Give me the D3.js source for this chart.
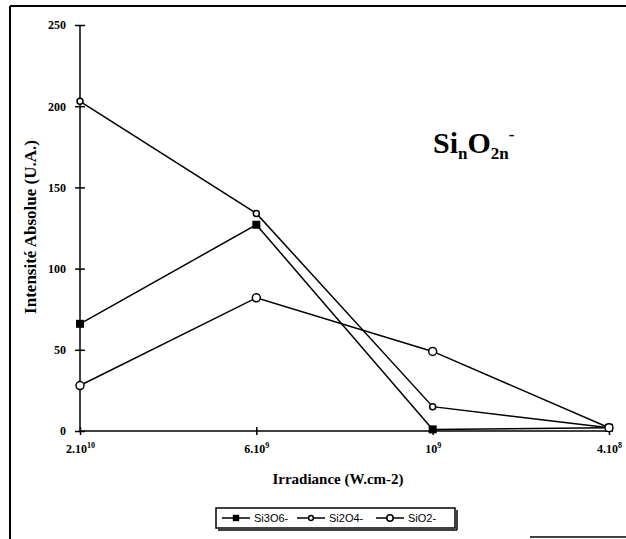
<!DOCTYPE html>
<html>
<head>
<meta charset="utf-8">
<script src="https://cdn.jsdelivr.net/npm/d3@7"></script>
<style>
  body { margin: 0; background: #fff; }
  svg { display: block; }
  .tick text { font-family: "Liberation Serif", serif; font-weight: bold; font-size: 12px; }
</style>
</head>
<body>
<section></section>
<script>
const categories = ["2.10|10", "6.10|9", "10|9", "4.10|8"];
const yTicks = [0, 50, 100, 150, 200, 250];
const seriesNames = ["Si3O6-", "Si2O4-", "SiO2-"];
const si3o6 = [66, 127, 1, 2];
const si2o4 = [203, 134, 15, 2];
const sio2 = [28, 82, 49, 2];

const series = [
  {name: seriesNames[0], values: si3o6, marker: "square"},
  {name: seriesNames[1], values: si2o4, marker: "small"},
  {name: seriesNames[2], values: sio2, marker: "circle"}
];

const width = 626, height = 539;
const margin = {left: 80, right: 17, top: 25, bottom: 108};

const svg = d3.select("section").append("svg")
  .attr("width", width)
  .attr("height", height);

// scanned frame edges
svg.append("line").attr("x1", 10).attr("y1", 6).attr("x2", 10).attr("y2", height)
  .attr("stroke", "#000").attr("stroke-width", 2);
svg.append("line").attr("x1", 10).attr("y1", 6).attr("x2", width).attr("y2", 6)
  .attr("stroke", "#000").attr("stroke-width", 2);
svg.append("line").attr("x1", 530).attr("y1", 537).attr("x2", width).attr("y2", 537)
  .attr("stroke", "#000").attr("stroke-width", 1.5);

const x = d3.scalePoint()
  .domain(categories)
  .range([margin.left, width - margin.right]);

const y = d3.scaleLinear()
  .domain([0, 250])
  .range([height - margin.bottom, margin.top]);

// y axis
const yAxis = svg.append("g")
  .attr("transform", `translate(${margin.left},0)`)
  .call(d3.axisLeft(y).tickValues(yTicks).tickSize(5).tickPadding(9));
yAxis.select(".domain").attr("stroke-width", 1.5).attr("d", `M0,${y(0)}V${y(250)}`);
yAxis.selectAll(".tick line").attr("x2", -5).attr("x1", 5).attr("stroke-width", 1.5);
yAxis.selectAll(".tick text").attr("fill", "#000");

// x axis
const xAxis = svg.append("g")
  .attr("transform", `translate(0,${y(0)})`)
  .call(d3.axisBottom(x).tickSize(4).tickPadding(9).tickFormat(() => ""));
xAxis.select(".domain").attr("stroke-width", 1.5)
  .attr("d", `M${x(categories[0])},0H${x(categories[categories.length - 1])}`);
xAxis.selectAll(".tick line").attr("y1", -4).attr("y2", 4).attr("stroke-width", 1.5);
xAxis.selectAll(".tick text").each(function(d) {
  const parts = d.split("|");
  const t = d3.select(this).attr("fill", "#000");
  t.append("tspan").text(parts[0]);
  t.append("tspan").attr("font-size", 8).attr("dy", -5).text(parts[1]);
});

// lines
const line = d3.line()
  .x((d, i) => x(categories[i]))
  .y(d => y(d));

series.forEach(s => {
  svg.append("path")
    .datum(s.values)
    .attr("fill", "none")
    .attr("stroke", "#000")
    .attr("stroke-width", 1.5)
    .attr("d", line);
});

function drawMarker(g, type, cx, cy, k = 1) {
  if (type === "square") {
    g.append("rect").attr("x", cx - 4 * k).attr("y", cy - 4 * k)
      .attr("width", 8 * k).attr("height", 8 * k)
      .attr("fill", "#000");
  } else if (type === "small") {
    g.append("circle").attr("cx", cx).attr("cy", cy).attr("r", 3 * k)
      .attr("fill", "#fff").attr("stroke", "#000").attr("stroke-width", 1.5);
  } else {
    g.append("circle").attr("cx", cx).attr("cy", cy).attr("r", 4 * k)
      .attr("fill", "#fff").attr("stroke", "#000").attr("stroke-width", 1.5);
  }
}

const marks = svg.append("g");
series.forEach(s => {
  s.values.forEach((v, i) => drawMarker(marks, s.marker, x(categories[i]), y(v)));
});

// title
const title = svg.append("text")
  .attr("x", 433).attr("y", 153)
  .attr("font-family", "Liberation Serif, serif")
  .attr("font-weight", "bold")
  .attr("font-size", 30);
title.append("tspan").text("Si");
title.append("tspan").attr("font-size", 17).attr("dy", 6).text("n");
title.append("tspan").attr("dy", -6).text("O");
title.append("tspan").attr("font-size", 17).attr("dy", 6).text("2n");
title.append("tspan").attr("font-size", 17).attr("dy", -19).text("-");

// axis labels
svg.append("text")
  .attr("transform", "translate(36,227) rotate(-90)")
  .attr("text-anchor", "middle")
  .attr("font-family", "Liberation Serif, serif")
  .attr("font-weight", "bold")
  .attr("font-size", 17)
  .text("Intensité Absolue (U.A.)");

svg.append("text")
  .attr("x", 338).attr("y", 484)
  .attr("text-anchor", "middle")
  .attr("font-family", "Liberation Serif, serif")
  .attr("font-weight", "bold")
  .attr("font-size", 15)
  .text("Irradiance (W.cm-2)");

// legend
const legend = svg.append("g");
legend.append("rect")
  .attr("x", 216).attr("y", 508).attr("width", 239).attr("height", 20)
  .attr("fill", "#fff").attr("stroke", "#000").attr("stroke-width", 1.5);
legend.append("line").attr("x1", 218).attr("y1", 530).attr("x2", 457).attr("y2", 530)
  .attr("stroke", "#000").attr("stroke-width", 1.5);
legend.append("line").attr("x1", 457).attr("y1", 510).attr("x2", 457).attr("y2", 530)
  .attr("stroke", "#000").attr("stroke-width", 1.5);
const legendX = [222, 297, 376];
series.forEach((s, i) => {
  const lx = legendX[i];
  legend.append("line").attr("x1", lx).attr("y1", 518).attr("x2", lx + 28).attr("y2", 518)
    .attr("stroke", "#000").attr("stroke-width", 1.5);
  drawMarker(legend, s.marker, lx + 14, 518, 0.8);
  legend.append("text")
    .attr("x", lx + 32).attr("y", 522)
    .attr("font-family", "Liberation Sans, sans-serif")
    .attr("font-size", 11)
    .text(s.name);
});
</script>
</body>
</html>
